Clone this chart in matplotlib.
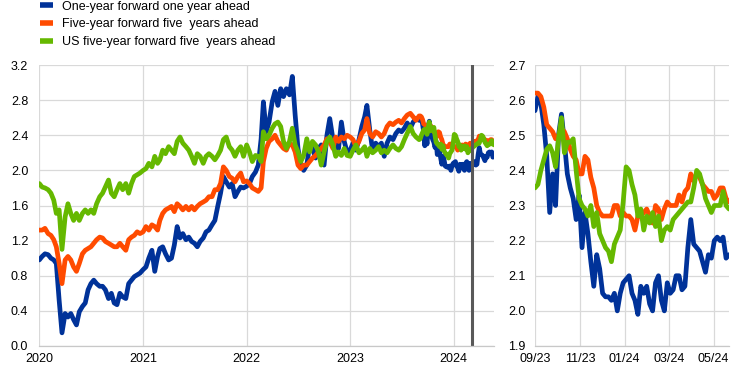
import matplotlib
matplotlib.use("Agg")
import matplotlib.pyplot as plt
import matplotlib.dates as mdates
import matplotlib.ticker as mticker
import pandas as pd

plt.rcParams['font.family'] = ['Liberation Sans', 'DejaVu Sans']

series_labels = ["One-year forward one year ahead",
                 "Five-year forward five  years ahead",
                 "US five-year forward five  years ahead"]
colors = ["#003299", "#FF4B00", "#65B800"]

# history: 1st, 11th, 21st of each month, Jan 2020 - Aug 2023
hist_dates = pd.to_datetime([f"{y}-{m:02d}-{d:02d}" for y in range(2020, 2024)
                             for m in range(1, 13) for d in (1, 11, 21)
                             if (y, m) <= (2023, 8)])
# recent: every 4 days, Sep 2023 - May 2024
recent_dates = pd.date_range("2023-09-01", "2024-05-22", freq="4D")

one_year_hist = [
    0.98, 1.02, 1.05, 1.04, 1.00, 0.98, 0.94, 0.52, 0.15, 0.37, 0.33, 0.37,
    0.30, 0.24, 0.39, 0.45, 0.49, 0.64, 0.71, 0.75, 0.71, 0.68, 0.68, 0.64,
    0.54, 0.60, 0.49, 0.47, 0.60, 0.56, 0.54, 0.71, 0.75, 0.79, 0.81, 0.83,
    0.87, 0.90, 1.00, 1.09, 0.85, 1.02, 1.11, 1.13, 1.05, 0.98, 1.00, 1.15,
    1.36, 1.23, 1.28, 1.21, 1.24, 1.19, 1.17, 1.13, 1.19, 1.23, 1.30, 1.32,
    1.38, 1.43, 1.59, 1.74, 1.93, 1.87, 1.81, 1.85, 1.70, 1.76, 1.81, 1.80,
    1.82, 1.85, 1.93, 1.98, 2.06, 2.36, 2.78, 2.44, 2.55, 2.78, 2.90, 2.74,
    2.93, 2.84, 2.93, 2.86, 3.07, 2.63, 2.25, 2.06, 2.00, 2.06, 2.29, 2.25,
    2.14, 2.25, 2.29, 2.06, 2.40, 2.59, 2.36, 2.27, 2.25, 2.55, 2.33, 2.21,
    2.23, 2.31, 2.23, 2.35, 2.50, 2.61, 2.74, 2.46, 2.23, 2.31, 2.27, 2.31,
    2.16, 2.31, 2.38, 2.35, 2.42, 2.46, 2.44, 2.48, 2.54, 2.48, 2.55, 2.59]
five_year_hist = [
    1.32, 1.32, 1.34, 1.28, 1.26, 1.21, 1.13, 0.94, 0.71, 0.98, 1.02, 0.98,
    0.90, 0.85, 0.94, 1.05, 1.09, 1.11, 1.13, 1.17, 1.21, 1.24, 1.23, 1.19,
    1.17, 1.15, 1.13, 1.13, 1.17, 1.13, 1.09, 1.21, 1.24, 1.26, 1.30, 1.28,
    1.30, 1.36, 1.32, 1.38, 1.36, 1.32, 1.43, 1.51, 1.55, 1.57, 1.59, 1.53,
    1.62, 1.59, 1.55, 1.59, 1.55, 1.59, 1.55, 1.59, 1.62, 1.64, 1.66, 1.70,
    1.70, 1.78, 1.78, 1.85, 2.04, 2.00, 1.93, 1.91, 1.87, 1.93, 1.97, 1.87,
    1.88, 1.85, 1.80, 1.78, 1.76, 1.80, 2.10, 2.25, 2.33, 2.36, 2.40, 2.33,
    2.29, 2.25, 2.23, 2.31, 2.29, 2.21, 2.06, 2.02, 2.06, 2.06, 2.10, 2.14,
    2.17, 2.21, 2.25, 2.29, 2.36, 2.33, 2.25, 2.38, 2.33, 2.38, 2.36, 2.40,
    2.38, 2.35, 2.27, 2.33, 2.42, 2.46, 2.59, 2.42, 2.38, 2.44, 2.42, 2.38,
    2.42, 2.50, 2.54, 2.52, 2.55, 2.57, 2.54, 2.59, 2.63, 2.65, 2.61, 2.57]
us_five_year_hist = [
    1.85, 1.81, 1.80, 1.78, 1.74, 1.66, 1.51, 1.55, 1.10, 1.47, 1.62, 1.51,
    1.43, 1.51, 1.43, 1.51, 1.55, 1.51, 1.55, 1.51, 1.62, 1.70, 1.74, 1.81,
    1.89, 1.74, 1.70, 1.78, 1.85, 1.78, 1.85, 1.74, 1.85, 1.93, 1.95, 1.97,
    2.00, 2.02, 2.08, 2.04, 2.16, 2.08, 2.12, 2.23, 2.19, 2.27, 2.23, 2.19,
    2.33, 2.38, 2.31, 2.27, 2.23, 2.16, 2.08, 2.19, 2.16, 2.08, 2.16, 2.19,
    2.16, 2.12, 2.17, 2.23, 2.35, 2.38, 2.27, 2.23, 2.16, 2.23, 2.27, 2.16,
    2.29, 2.21, 2.10, 2.17, 2.16, 2.10, 2.44, 2.36, 2.40, 2.48, 2.53, 2.55,
    2.50, 2.33, 2.25, 2.33, 2.48, 2.29, 2.21, 2.10, 2.17, 2.36, 2.21, 2.33,
    2.29, 2.21, 2.06, 2.21, 2.33, 2.38, 2.29, 2.16, 2.21, 2.17, 2.25, 2.17,
    2.16, 2.23, 2.29, 2.20, 2.23, 2.27, 2.16, 2.25, 2.20, 2.23, 2.27, 2.20,
    2.23, 2.20, 2.25, 2.29, 2.25, 2.23, 2.27, 2.35, 2.42, 2.50, 2.42, 2.38]

one_year_recent = [
    2.57, 2.61, 2.59, 2.53, 2.44, 2.28, 2.39, 2.30, 2.50, 2.56,
    2.48, 2.39, 2.35, 2.32, 2.26, 2.33, 2.18, 2.28, 2.22, 2.14,
    2.07, 2.16, 2.12, 2.05, 2.04, 2.04, 2.03, 2.05, 2.00, 2.05,
    2.08, 2.09, 2.10, 2.05, 2.03, 1.99, 2.07, 2.05, 2.07, 2.02,
    2.00, 2.08, 2.10, 2.03, 2.00, 2.08, 2.05, 2.06, 2.10, 2.10,
    2.06, 2.07, 2.18, 2.26, 2.19, 2.18, 2.17, 2.14, 2.11, 2.16,
    2.15, 2.20, 2.21, 2.20, 2.21, 2.15, 2.16]
five_year_recent = [
    2.62, 2.62, 2.61, 2.58, 2.53, 2.52, 2.51, 2.49, 2.50, 2.52,
    2.51, 2.49, 2.46, 2.44, 2.43, 2.39, 2.39, 2.44, 2.43, 2.38,
    2.35, 2.30, 2.28, 2.27, 2.27, 2.27, 2.27, 2.30, 2.30, 2.27,
    2.28, 2.27, 2.27, 2.26, 2.23, 2.27, 2.27, 2.28, 2.29, 2.27,
    2.25, 2.30, 2.29, 2.26, 2.29, 2.31, 2.30, 2.30, 2.30, 2.33,
    2.31, 2.34, 2.35, 2.39, 2.37, 2.39, 2.38, 2.36, 2.35, 2.34,
    2.34, 2.32, 2.33, 2.35, 2.35, 2.32, 2.31]
us_five_year_recent = [
    2.35, 2.36, 2.40, 2.43, 2.46, 2.47, 2.45, 2.41, 2.49, 2.55,
    2.45, 2.48, 2.48, 2.49, 2.40, 2.32, 2.30, 2.29, 2.27, 2.30,
    2.24, 2.28, 2.22, 2.20, 2.18, 2.17, 2.14, 2.19, 2.21, 2.23,
    2.31, 2.41, 2.40, 2.36, 2.33, 2.27, 2.29, 2.23, 2.27, 2.25,
    2.28, 2.24, 2.27, 2.20, 2.23, 2.24, 2.23, 2.26, 2.27, 2.28,
    2.29, 2.30, 2.31, 2.31, 2.35, 2.40, 2.39, 2.36, 2.32, 2.30,
    2.28, 2.30, 2.30, 2.30, 2.34, 2.30, 2.29]

marker_date = pd.Timestamp("2024-03-07")
left_yticks = [0.0, 0.4, 0.8, 1.2, 1.6, 2.0, 2.4, 2.8, 3.2]
right_yticks = [1.9, 2.0, 2.1, 2.2, 2.3, 2.4, 2.5, 2.6, 2.7]
right_xticks = pd.to_datetime(["2023-09-01", "2023-11-01", "2024-01-01",
                               "2024-03-01", "2024-05-01"])

all_dates = hist_dates.append(recent_dates)
full = [one_year_hist + one_year_recent,
        five_year_hist + five_year_recent,
        us_five_year_hist + us_five_year_recent]
recent = [one_year_recent, five_year_recent, us_five_year_recent]

W, H = 742, 371
fig = plt.figure(figsize=(W / 100, H / 100), dpi=100)
ax1 = fig.add_axes([39.3 / W, 25 / H, (494 - 39.3) / W, 281 / H])
ax2 = fig.add_axes([535 / W, 25 / H, 194 / W, 281 / H])

grid_c = "#d9d9d9"
for ax in (ax1, ax2):
    ax.set_axisbelow(True)
    ax.grid(True, color=grid_c, lw=0.9)
    for s in ("top", "right", "left"):
        ax.spines[s].set_visible(False)
    ax.spines["bottom"].set_color("#c8c8c8")
    ax.spines["bottom"].set_linewidth(0.9)
    ax.tick_params(length=0, labelsize=9, colors="#000000")

handles = []
for vals, c, lab in zip(full, colors, series_labels):
    h, = ax1.plot(all_dates, vals, color=c, lw=3.4, label=lab,
                  solid_joinstyle="round", solid_capstyle="round")
    handles.append(h)
ax1.axvline(marker_date, color="#595959", lw=2.2)
ax1.set_ylim(0, 3.2)
ax1.set_yticks(left_yticks)
ax1.yaxis.set_major_formatter(mticker.FormatStrFormatter("%.1f"))
ax1.set_xlim(pd.Timestamp("2020-01-01"), recent_dates[-1])
ax1.xaxis.set_major_locator(mdates.YearLocator())
ax1.xaxis.set_major_formatter(mdates.DateFormatter("%Y"))
ax1.tick_params(axis="y", pad=8)
ax1.tick_params(axis="x", pad=5)

for vals, c in zip(recent, colors):
    ax2.plot(recent_dates, vals, color=c, lw=3.4,
             solid_joinstyle="round", solid_capstyle="round")
ax2.set_ylim(1.9, 2.7)
ax2.set_yticks(right_yticks)
ax2.yaxis.set_major_formatter(mticker.FormatStrFormatter("%.1f"))
ax2.set_xlim(recent_dates[0], recent_dates[-1])
ax2.set_xticks(right_xticks)
ax2.xaxis.set_major_formatter(mdates.DateFormatter("%m/%y"))
ax2.tick_params(axis="y", pad=7)
ax2.tick_params(axis="x", pad=5)

leg = fig.legend(handles=handles, labels=series_labels, loc="upper left",
                 bbox_to_anchor=(39 / W, 1.0), bbox_transform=fig.transFigure,
                 frameon=False, fontsize=9, handlelength=1.1, handletextpad=0.7,
                 labelspacing=0.45, borderpad=0.05, borderaxespad=0)
for lh in leg.get_lines():
    lh.set_linewidth(4)
    lh.set_solid_capstyle("butt")

fig.savefig("out.png", dpi=100)
